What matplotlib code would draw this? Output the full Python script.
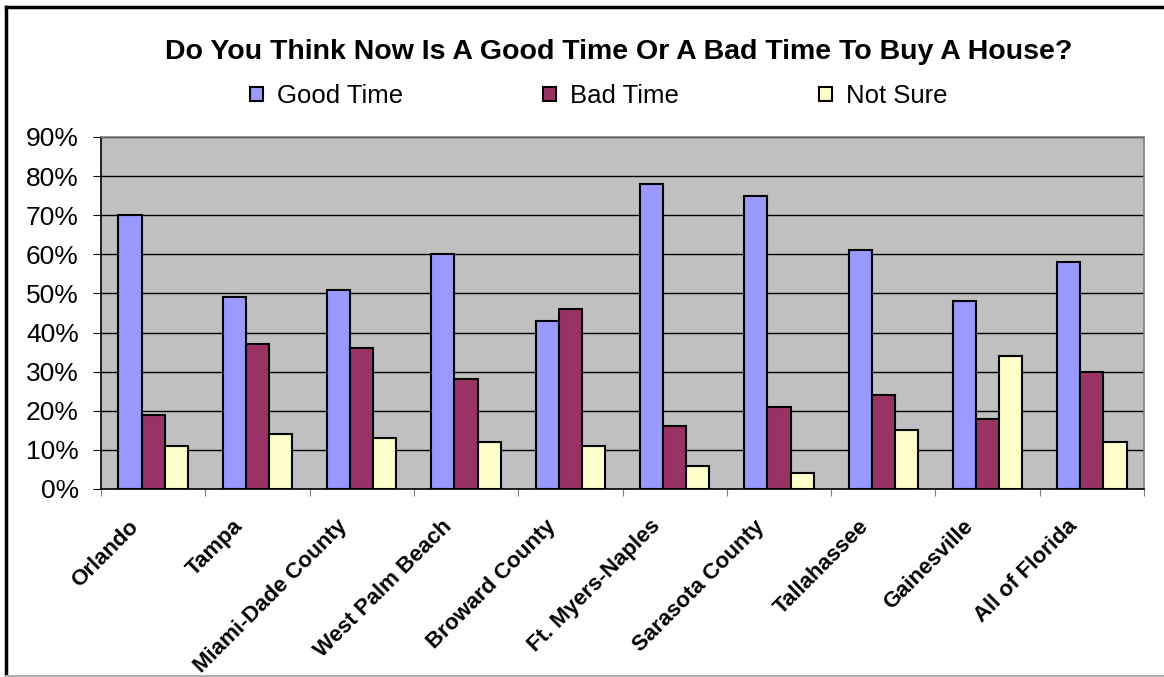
import matplotlib
matplotlib.use("Agg")
import matplotlib.pyplot as plt
import matplotlib.transforms as mtransforms
import numpy as np
from matplotlib.ticker import MultipleLocator, FuncFormatter
from matplotlib.lines import Line2D

plt.rcParams['font.family'] = ['Liberation Sans', 'DejaVu Sans']

categories = ["Orlando", "Tampa", "Miami-Dade County", "West Palm Beach",
              "Broward County", "Ft. Myers-Naples", "Sarasota County",
              "Tallahassee", "Gainesville", "All of Florida"]
good_time = [70, 49, 51, 60, 43, 78, 75, 61, 48, 58]
bad_time = [19, 37, 36, 28, 46, 16, 21, 24, 18, 30]
not_sure = [11, 14, 13, 12, 11, 6, 4, 15, 34, 12]
series_names = ["Good Time", "Bad Time", "Not Sure"]
series_colors = ["#9999FF", "#993366", "#FFFFCC"]

W, H = 1164, 677
fig = plt.figure(figsize=(W / 100, H / 100), dpi=100)
fig.patch.set_facecolor("white")

ax = fig.add_axes([101 / W, 1 - 489 / H, (1144 - 101) / W, (489 - 137) / H])
ax.set_facecolor("#C0C0C0")

x = np.arange(len(categories))
bw = 0.222
series = [good_time, bad_time, not_sure]
handles = []
for i, (vals, name, col) in enumerate(zip(series, series_names, series_colors)):
    b = ax.bar(x + (i - 1) * bw, vals, width=bw, color=col, edgecolor="black",
               linewidth=1.5, label=name, zorder=3)
    handles.append(b)

ax.set_xlim(-0.5, len(categories) - 0.5)
ax.set_ylim(0, 90)
ax.yaxis.set_major_locator(MultipleLocator(10))
ax.yaxis.set_major_formatter(FuncFormatter(lambda v, p: f"{v:.0f}%"))
ax.yaxis.grid(True, color="black", linewidth=1.0, zorder=1)
ax.set_axisbelow(True)

# category separators as ticks; names placed under each group, slanted
ax.set_xticks(np.arange(len(categories) + 1) - 0.5)
ax.set_xticklabels([])
ax.tick_params(axis="x", length=5, color="#808080", direction="out")
ax.tick_params(axis="y", length=6, color="black", labelsize=19, pad=10)

label_offset = mtransforms.ScaledTranslation(-25 / 100, -27 / 100, fig.dpi_scale_trans)
label_trans = ax.get_xaxis_transform() + label_offset
for xi, name in zip(x, categories):
    ax.text(xi, 0, name, transform=label_trans, rotation=45, ha="right",
            va="top", rotation_mode="anchor", fontsize=16, fontweight="bold",
            clip_on=False)

for side in ("top", "right"):
    ax.spines[side].set_color("#808080")
    ax.spines[side].set_linewidth(1.2)
for side in ("left", "bottom"):
    ax.spines[side].set_color("black")
    ax.spines[side].set_linewidth(1.2)

fig.text(619 / W, 1 - 52 / H,
         "Do You Think Now Is A Good Time Or A Bad Time To Buy A House?",
         ha="center", va="center", fontsize=20.5, fontweight="bold")

leg = fig.legend(handles=handles, labels=series_names, loc="center left",
                 bbox_to_anchor=(250 / W, 1 - 96 / H), ncol=3, frameon=False,
                 fontsize=18.5, handlelength=0.5, handleheight=0.5,
                 handletextpad=0.55, columnspacing=5.45, borderpad=0,
                 borderaxespad=0)

# outer chart border
fig.add_artist(Line2D([6 / W, 6 / W], [0, 1 - 7 / H], color="black", linewidth=2.5,
                      transform=fig.transFigure))
fig.add_artist(Line2D([6 / W, 1], [1 - 7 / H, 1 - 7 / H], color="black", linewidth=2.5,
                      transform=fig.transFigure))
fig.add_artist(Line2D([6 / W, 1], [1.5 / H, 1.5 / H], color="#B0B0B0", linewidth=1.5,
                      transform=fig.transFigure))

fig.savefig("out.png", dpi=100)
